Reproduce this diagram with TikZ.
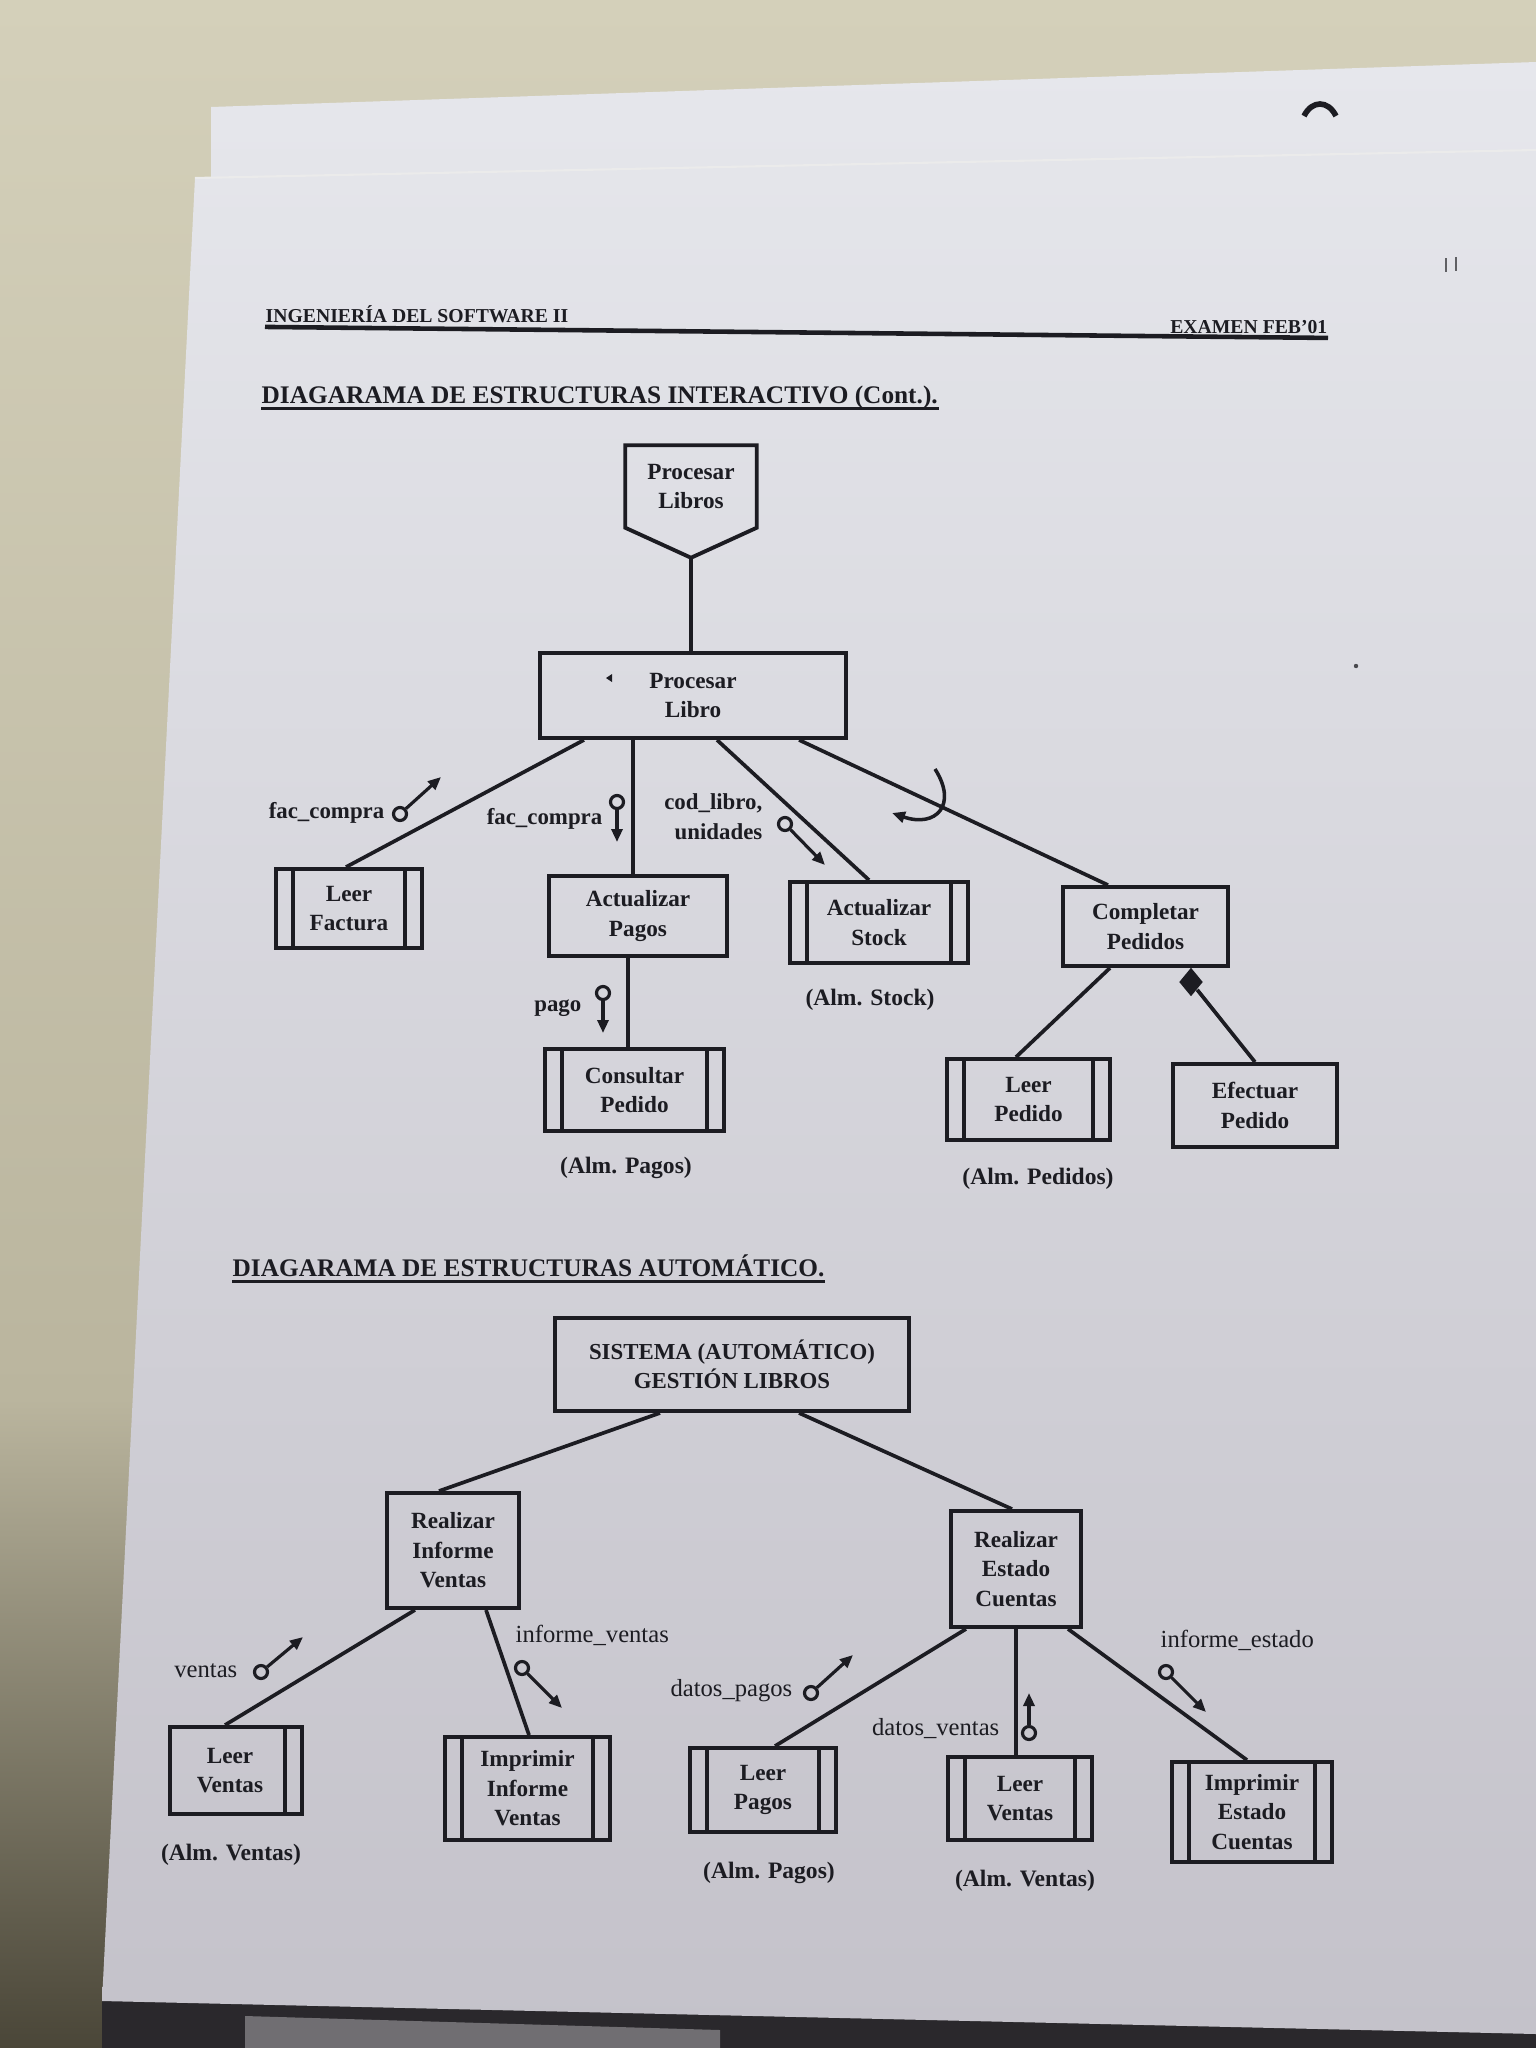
\documentclass[tikz,border=0pt]{standalone}
\usepackage{fontspec}
\setmainfont{Liberation Serif}
\usetikzlibrary{arrows.meta,shapes.geometric}
\definecolor{ink}{RGB}{28,28,34}
\definecolor{bgtop}{RGB}{212,208,186}
\definecolor{bgmid}{RGB}{186,181,158}
\definecolor{bgbot}{RGB}{74,70,56}
\definecolor{pgtop}{RGB}{230,231,236}
\definecolor{pgmid}{RGB}{217,217,223}
\definecolor{pgbot}{RGB}{196,194,202}
\definecolor{darkedge}{RGB}{42,40,44}
\definecolor{greysheet}{RGB}{112,110,114}
\newcommand{\myBoxFont}{\fontsize{6.6}{8.4}\selectfont\bfseries}
\newcommand{\myLblFont}{\fontsize{6.5}{8.6}\selectfont\bfseries}
\newcommand{\myLblFontR}{\fontsize{7}{8.6}\selectfont}
\newcommand{\myHeadFont}{\fontsize{5.6}{6}\selectfont\bfseries}
\newcommand{\myTitleFont}{\fontsize{7.2}{8}\selectfont\bfseries}
\begin{document}
\begin{tikzpicture}[x=0.01cm,y=-0.01cm,
  every node/.style={text=ink},
  box/.style={draw=ink, line width=1.1pt, inner sep=0pt, align=center, font=\myBoxFont},
  mod/.style={box, path picture={
     \draw[ink,line width=0.9pt]
       ([xshift=0.17cm]path picture bounding box.north west) -- ([xshift=0.17cm]path picture bounding box.south west)
       ([xshift=-0.17cm]path picture bounding box.north east) -- ([xshift=-0.17cm]path picture bounding box.south east);}},
  rmod/.style={box, path picture={
     \draw[ink,line width=0.9pt]
       ([xshift=-0.17cm]path picture bounding box.north east) -- ([xshift=-0.17cm]path picture bounding box.south east);}},
  conn/.style={draw=ink, line width=1.05pt},
  coupc/.style={circle, draw=ink, line width=0.9pt, minimum size=0.13cm, inner sep=0pt},
  carrow/.style={draw=ink, line width=0.9pt, -{Triangle[length=1.3mm,width=1.1mm]}},
  lbl/.style={inner sep=0pt, font=\myLblFont},
  lblr/.style={inner sep=0pt, font=\myLblFontR},
  alm/.style={inner sep=0pt, font=\fontsize{6.7}{8}\selectfont\bfseries},
]
\useasboundingbox (0,0) rectangle (1536,2048);
% ---------- photo background ----------
\shade[top color=bgtop, bottom color=bgmid] (0,0) rectangle (1536,1400);
\shade[top color=bgmid, bottom color=bgbot] (0,1399) rectangle (1536,2048);
\fill[darkedge] (102,2000) -- (1536,2033) -- (1536,2048) -- (102,2048) -- cycle;
\fill[greysheet] (245,2016) -- (720,2030) -- (720,2048) -- (245,2048) -- cycle;
\shade[top color=pgtop, middle color=pgmid, bottom color=pgbot]
  (211,107) -- (1536,62) -- (1536,2034) -- (102,2001) -- (195,178) -- (211,178) -- cycle;
\draw[white!92!black, line width=0.6pt] (195,178) -- (1536,150);
% small marks on the sheet
\draw[ink, line width=1.6pt] (1304,116) .. controls (1312,100) and (1328,100) .. (1336,116);
\draw[ink!70, line width=0.5pt] (1446,258) -- (1446,272) (1456,257) -- (1456,271);
\fill[ink!80] (1356,666) circle (2.2);
% ---------- header ----------
\node[anchor=base west, inner sep=0pt, font=\myHeadFont] (h1) at (265,322) {INGENIERÍA DEL SOFTWARE II};
\node[anchor=base east, inner sep=0pt, font=\myHeadFont] (h2) at (1328,333) {EXAMEN FEB'01};
\draw[ink, line width=1.3pt] ([yshift=-1.4pt]h1.base west) -- ([yshift=-1.4pt]h2.base east);
\node[anchor=base west, inner sep=0pt, font=\myTitleFont] (t1) at (261,403) {DIAGARAMA DE ESTRUCTURAS INTERACTIVO (Cont.).};
\draw[ink, line width=0.9pt] ([yshift=-1.6pt]t1.base west) -- ([yshift=-1.6pt]t1.base east);
% ---------- interactive diagram ----------
\node[inner sep=0pt, minimum width=1.30cm, minimum height=0.81cm, align=center, font=\myBoxFont] (plibros) at (691,486.5) {Procesar\\Libros};
\draw[ink, line width=1.1pt, line join=miter] (plibros.north west) -- (plibros.north east) -- (plibros.south east)
   -- ([yshift=-0.30cm]plibros.south) -- (plibros.south west) -- cycle;
\coordinate (ptip) at ([yshift=-0.30cm]plibros.south);
\node[box, minimum width=3.06cm, minimum height=0.85cm] (plibro) at (693,695.5) {Procesar\\Libro};
\fill[ink] (606,678) -- (612,674) -- (612,682) -- cycle;
\node[mod, minimum width=1.46cm, minimum height=0.79cm] (lfact) at (349,908.5) {Leer\\Factura};
\node[box, minimum width=1.78cm, minimum height=0.80cm] (apagos) at (638,916) {Actualizar\\Pagos};
\node[mod, minimum width=1.78cm, minimum height=0.81cm] (astock) at (879,922.5) {Actualizar\\Stock};
\node[box, minimum width=1.65cm, minimum height=0.79cm] (cped) at (1145.5,926.5) {Completar\\Pedidos};
\node[mod, minimum width=1.63cm, minimum height=0.81cm] (lped) at (1028.5,1099.5) {Leer\\Pedido};
\node[box, minimum width=1.64cm, minimum height=0.83cm] (efped) at (1255,1105.5) {Efectuar\\Pedido};
\node[mod, minimum width=1.79cm, minimum height=0.82cm] (cons) at (634.5,1090) {Consultar\\Pedido};
\node[alm] (almst) at (870,1000) {(Alm. Stock)};
\node[alm] (almpg) at (626,1168) {(Alm. Pagos)};
\node[alm] (almpd) at (1038,1179) {(Alm. Pedidos)};
% connectors
\draw[conn] (ptip) -- (ptip |- plibro.north);
\draw[conn] ([xshift=-1.09cm]plibro.south) -- ([xshift=-0.03cm]lfact.north);
\coordinate (pa) at ([xshift=-0.60cm]plibro.south);
\draw[conn] (pa) -- (pa |- apagos.north);
\draw[conn] ([xshift=0.24cm]plibro.south) -- ([xshift=-0.10cm]astock.north);
\draw[conn] ([xshift=1.06cm]plibro.south) -- ([xshift=-0.375cm]cped.north);
\coordinate (pc) at ([xshift=-0.10cm]apagos.south);
\draw[conn] (pc) -- (pc |- cons.north);
\draw[conn] ([xshift=-0.355cm]cped.south) -- ([xshift=-0.125cm]lped.north);
\node[diamond, fill=ink, inner sep=0pt, minimum width=0.24cm, minimum height=0.29cm] (dia) at (1191,982) {};
\draw[conn] (dia) -- (efped.north);
% data couples
\node[coupc] (c1) at (400,814) {}; \coordinate (k1) at (441,777);
\draw[carrow] (c1) -- (k1);
\node[lbl, anchor=east] (l1) at (385,813) {fac\_compra};
\node[coupc] (c2) at (617,802) {}; \coordinate (k2) at (617,842);
\draw[carrow] (c2) -- (k2);
\node[lbl, anchor=east] (l2) at (603,819) {fac\_compra};
\node[coupc] (c3) at (785,824) {}; \coordinate (k3) at (825,865);
\draw[carrow] (c3) -- (k3);
\node[lbl, anchor=east, align=right] (l3) at (763,817) {cod\_libro,\\unidades};
\node[coupc] (c4) at (603,993) {}; \coordinate (k4) at (603,1033);
\draw[carrow] (c4) -- (k4);
\node[lbl, anchor=east] (l4) at (582,1008) {pago};
% iteration loop
\coordinate (it1) at (935,769); \coordinate (it2) at (892,813);
\draw[carrow, line width=1pt] (it1) .. controls (958,805) and (936,828) .. (it2);
% ---------- automatic diagram ----------
\node[anchor=base west, inner sep=0pt, font=\myTitleFont] (t2) at (232,1276) {DIAGARAMA DE ESTRUCTURAS AUTOMÁTICO.};
\draw[ink, line width=0.9pt] ([yshift=-1.6pt]t2.base west) -- ([yshift=-1.6pt]t2.base east);
\node[box, minimum width=3.54cm, minimum height=0.93cm, font=\fontsize{6.5}{8.2}\selectfont\bfseries] (sis) at (732,1364.5) {SISTEMA (AUTOMÁTICO)\\GESTIÓN LIBROS};
\node[box, minimum width=1.32cm, minimum height=1.15cm] (riv) at (453,1550.5) {Realizar\\Informe\\Ventas};
\node[box, minimum width=1.30cm, minimum height=1.16cm] (rec) at (1016,1569) {Realizar\\Estado\\Cuentas};
\node[rmod, minimum width=1.32cm, minimum height=0.87cm] (lv1) at (236,1770.5) {Leer\hspace*{0.12cm}\\Ventas\hspace*{0.12cm}};
\node[mod, minimum width=1.65cm, minimum height=1.03cm] (iiv) at (527.5,1788.5) {Imprimir\\Informe\\Ventas};
\node[mod, minimum width=1.46cm, minimum height=0.84cm] (lpag) at (763,1790) {Leer\\Pagos};
\node[mod, minimum width=1.44cm, minimum height=0.83cm] (lv2) at (1020,1798.5) {Leer\\Ventas};
\node[mod, minimum width=1.60cm, minimum height=1.00cm] (iec) at (1252,1812) {Imprimir\\Estado\\Cuentas};
\node[alm] (almv1) at (231,1855) {(Alm. Ventas)};
\node[alm] (almp2) at (769,1873) {(Alm. Pagos)};
\node[alm] (almv2) at (1025,1881) {(Alm. Ventas)};
% connectors
\draw[conn] ([xshift=-0.72cm]sis.south) -- ([xshift=-0.14cm]riv.north);
\draw[conn] ([xshift=0.67cm]sis.south) -- ([xshift=-0.04cm]rec.north);
\draw[conn] ([xshift=-0.38cm]riv.south) -- ([xshift=-0.11cm]lv1.north);
\draw[conn] ([xshift=0.33cm]riv.south) -- ([xshift=0.015cm]iiv.north);
\draw[conn] ([xshift=-0.50cm]rec.south) -- ([xshift=0.12cm]lpag.north);
\draw[conn] (rec.south) -- (rec.south |- lv2.north);
\draw[conn] ([xshift=0.52cm]rec.south) -- ([xshift=-0.05cm]iec.north);
% data couples
\node[coupc] (c5) at (261,1672) {}; \coordinate (k5) at (303,1637);
\draw[carrow] (c5) -- (k5);
\node[lblr, anchor=east] (l5) at (238,1671) {ventas};
\node[coupc] (c6) at (522,1668) {}; \coordinate (k6) at (562,1708);
\draw[carrow] (c6) -- (k6);
\node[lblr, anchor=west] (l6) at (515,1635) {informe\_ventas};
\node[coupc] (c7) at (811,1693) {}; \coordinate (k7) at (853,1655);
\draw[carrow] (c7) -- (k7);
\node[lblr, anchor=east] (l7) at (793,1691) {datos\_pagos};
\node[coupc] (c8) at (1029,1733) {}; \coordinate (k8) at (1029,1693);
\draw[carrow] (c8) -- (k8);
\node[lblr, anchor=east] (l8) at (1000,1729) {datos\_ventas};
\node[coupc] (c9) at (1166,1672) {}; \coordinate (k9) at (1206,1712);
\draw[carrow] (c9) -- (k9);
\node[lblr, anchor=west] (l9) at (1160,1640) {informe\_estado};
\end{tikzpicture}
\end{document}
